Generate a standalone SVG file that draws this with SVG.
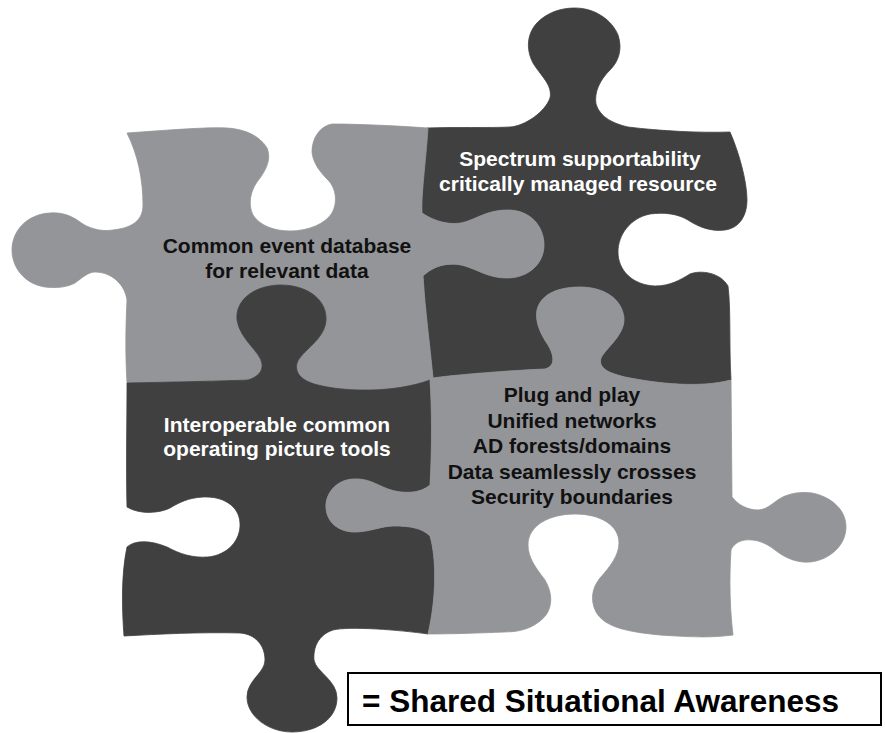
<svg xmlns="http://www.w3.org/2000/svg" width="885" height="733" viewBox="0 0 885 733">
  <style>
    .light { fill: #939598; stroke: #939598; stroke-width: 0.8; }
    .dark { fill: #404041; stroke: #404041; stroke-width: 0.8; }
    .lbl { font-family: "Liberation Sans", Arial, sans-serif; font-weight: bold; font-size: 21px; text-anchor: middle; }
    .on-light { fill: #111111; }
    .on-dark { fill: #ffffff; }
  </style>
  <rect width="885" height="733" fill="#ffffff"/>

  <!-- top-right piece (drawn first; neighbours sit over its sockets) -->
  <g id="piece-spectrum">
    <path class="dark" d="M427,128 C455,127 490,128 510,127 C525,126 545,112 550,98 C553,85 540,75 533,63 C526,50 526,32 540,20 C552,10 565,8 575,8 C595,8 612,20 618,35 C623,50 618,62 610,70 C600,80 594,92 596,104 C600,118 615,124 628,127 C660,131 700,133 730,132 C738,150 747,180 747,200 C747,215 740,228 725,230 C710,232 697,226 688,220 C678,214 665,212 650,214 C630,218 618,235 618,252 C618,270 632,285 655,286 C670,286 680,280 690,274 C700,270 720,272 728,286 C731,310 729,345 731,380 C700,388 660,384 625,377 C608,373 598,368 601,358 C606,348 625,335 624,318 C622,298 603,287 580,287 C560,287 541,293 537,310 C535,322 540,333 548,345 C554,355 556,366 545,369 C520,370 460,374 433,378 C430,345 425,310 423,276 C435,264 452,262 465,266 C478,270 489,278 507,278 C528,278 544,264 544,245 C544,226 530,210 508,210 C488,210 478,218 465,222 C452,226 435,222 422,213 C421,195 426,160 427,128 Z"/>
    <text class="lbl on-dark" x="580" y="166">Spectrum supportability</text>
    <text class="lbl on-dark" x="578" y="191">critically managed resource</text>
  </g>

  <!-- top-left piece -->
  <g id="piece-event-db">
    <path class="light" d="M127,133 C170,130 205,127 227,128 C245,129 260,136 267,148 C272,160 265,172 257,182 C250,192 248,205 253,215 C260,226 275,231 290,231 C308,231 325,224 332,213 C338,202 336,188 328,180 C320,172 313,163 312,152 C312,138 320,126 332,124 C360,124 400,126 428,128 C426,160 421,195 422,213 C435,222 452,226 465,222 C478,218 488,210 508,210 C530,210 544,226 544,245 C544,264 528,278 507,278 C489,278 478,270 465,266 C452,262 435,264 423,276 C425,310 430,345 433,378 L430,380 C395,393 345,392 318,385 C305,382 294,375 297,363 C302,350 325,340 326,320 C327,298 305,285 281,285 C257,285 235,298 237,320 C240,340 261,352 262,364 C263,371 258,377 248,380 C225,381 175,382 127,383 C125,350 126,320 127,300 C125,285 112,272 95,272 C88,272 82,278 75,283 C65,288 55,288 45,287 C25,284 12,268 12,250 C12,230 28,214 50,213 C62,212 72,216 80,222 C88,228 100,232 113,230 C130,228 143,222 143,205 C143,180 138,155 127,133 Z"/>
    <text class="lbl on-light" x="287" y="252.5">Common event database</text>
    <text class="lbl on-light" x="287" y="278">for relevant data</text>
  </g>

  <!-- bottom-left piece -->
  <g id="piece-cop-tools">
    <path class="dark" d="M127,383 C175,382 225,381 248,380 C258,377 263,371 262,364 C261,352 240,340 237,320 C235,298 257,285 281,285 C305,285 327,298 326,320 C325,340 302,350 297,363 C294,375 305,382 318,385 C345,392 395,393 430,380 C432,410 432,450 430,485 C420,494 402,494 388,489 C375,484 368,478 353,479 C335,480 325,495 326,508 C327,523 340,533 357,532 C372,531 382,526 394,526 C410,526 422,528 430,536 C437,560 436,600 428,634 C400,630 350,626 333,630 C318,635 313,648 314,660 C316,672 337,680 337,698 C337,718 318,732 292,732 C268,732 247,716 247,697 C247,680 265,673 265,660 C265,645 255,634 240,633 C200,632 160,634 124,636 C122,610 121,575 127,547 C135,540 150,540 167,547 C180,554 192,558 208,557 C228,555 241,540 240,523 C239,505 222,496 203,497 C188,498 180,502 170,508 C160,513 140,515 127,507 C126,470 127,420 127,383 Z"/>
    <text class="lbl on-dark" x="277" y="432">Interoperable common</text>
    <text class="lbl on-dark" x="277" y="456">operating picture tools</text>
  </g>

  <!-- bottom-right piece -->
  <g id="piece-plug-play">
    <path class="light" d="M430,380 L433,378 C460,374 520,370 545,369 C556,366 554,355 548,345 C540,333 535,322 537,310 C541,293 560,287 580,287 C603,287 622,298 624,318 C625,335 606,348 601,358 C598,368 608,373 625,377 C660,384 700,388 731,380 L732,497 C738,505 748,510 758,510 C768,510 775,500 785,496 C795,492 805,492 812,493 C832,497 846,510 846,527 C846,545 830,560 810,562 C797,563 785,558 775,550 C765,542 755,539 745,540 C738,541 733,545 731,550 C729,580 730,610 733,635 C710,638 690,637 660,635 C630,632 605,628 596,612 C590,600 592,588 600,578 C610,567 619,555 619,543 C619,525 600,514 575,514 C550,514 528,525 528,545 C528,558 536,568 545,580 C552,592 553,605 546,615 C538,625 525,632 505,632 C480,633 450,634 428,634 C436,600 437,560 430,536 C422,528 410,526 394,526 C382,526 372,531 357,532 C340,533 327,523 326,508 C325,495 335,480 353,479 C368,478 375,484 388,489 C402,494 420,494 430,485 C432,450 432,410 430,380 Z"/>
    <text class="lbl on-light" x="572" y="402">Plug and play</text>
    <text class="lbl on-light" x="572" y="427.5">Unified networks</text>
    <text class="lbl on-light" x="572" y="453">AD forests/domains</text>
    <text class="lbl on-light" x="572" y="478.5">Data seamlessly crosses</text>
    <text class="lbl on-light" x="572" y="504">Security boundaries</text>
  </g>

  <!-- result caption -->
  <g id="result">
    <rect x="348" y="673" width="533" height="52" fill="#ffffff" stroke="#000000" stroke-width="2"/>
    <text x="362" y="712" font-family="'Liberation Sans', Arial, sans-serif" font-weight="bold" font-size="31.5" fill="#000000">= Shared Situational Awareness</text>
  </g>

  <!-- no connectors in this figure -->
  <g id="connectors"/>
</svg>
